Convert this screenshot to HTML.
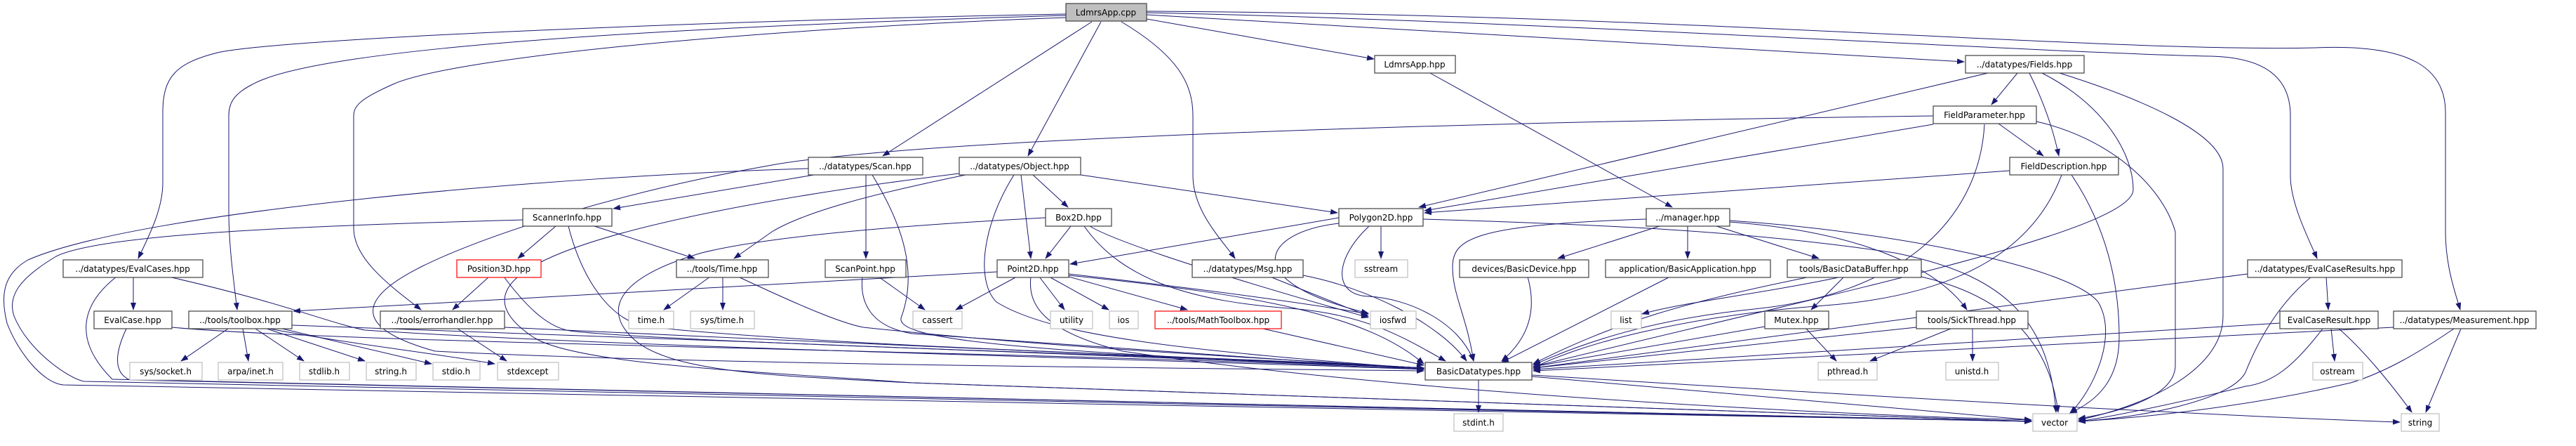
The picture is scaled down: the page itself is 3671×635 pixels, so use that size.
<!DOCTYPE html>
<html><head><meta charset="utf-8"><style>
html,body{margin:0;padding:0;background:#fff;}
svg{display:block;}
text{font-family:"DejaVu Sans","Liberation Sans",sans-serif;font-size:12px;fill:#000;}
.e{fill:none;stroke:#191970;stroke-width:1;}
.n{fill:#fff;stroke:#404040;stroke-width:1.2;}
.x{fill:#fff;stroke:#bfbfbf;stroke-width:1.2;}
.r{fill:#fff;stroke:#ff0000;stroke-width:1.2;}
.g{fill:#bfbfbf;stroke:#404040;stroke-width:1.2;}
</style></head><body>
<svg width="3671" height="635" viewBox="0 0 3671 635" xmlns="http://www.w3.org/2000/svg">
<defs><marker id="a" markerWidth="11" markerHeight="8" refX="10" refY="4" orient="auto" markerUnits="userSpaceOnUse"><path d="M0,0 L11,4 L0,8z" fill="#191970"/></marker></defs>
<g marker-end="url(#a)">
<path class="e" d="M1519,20 C1000,30 400,55 310,75 C250,90 232,110 232,160 L232,260 C232,300 210,340 197,368"/>
<path class="e" d="M1519,22 C900,40 450,70 360,120 C330,135 326,150 326,165 L326,300 C326,350 333,400 338,441"/>
<path class="e" d="M1519,25 C1100,40 650,80 560,120 C515,140 504,150 504,165 L504,325 C504,370 560,410 600,441"/>
<path class="e" d="M1556,31 L1258,222"/>
<path class="e" d="M1569,31 L1465,222"/>
<path class="e" d="M1598,31 C1680,80 1700,120 1700,165 L1700,250 C1700,300 1740,340 1760,368"/>
<path class="e" d="M1634,27 L1958,84"/>
<path class="e" d="M1634,21 L2799,88"/>
<path class="e" d="M1634,18 C2200,30 2900,75 3150,80 C3240,82 3264,120 3264,165 L3264,250 C3264,290 3290,340 3302,368"/>
<path class="e" d="M1634,16 C2400,20 3000,75 3300,68 C3440,62 3485,100 3485,160 L3485,330 C3485,380 3500,420 3506,441"/>
<path class="e" d="M2038,104 L2383,295"/>
<path class="e" d="M2875,104 L2838,149"/>
<path class="e" d="M2892,104 C2910,140 2925,180 2934,222"/>
<path class="e" d="M2833,104 L2022,295"/>
<path class="e" d="M2910,104 C3000,150 3040,220 3040,270 C3040,330 2600,420 2185,522"/>
<path class="e" d="M2935,104 C3050,140 3168,190 3168,240 L3168,450 C3168,530 3050,580 2962,598"/>
<path class="e" d="M2848,176 L2912,222"/>
<path class="e" d="M2755,177 L2030,300"/>
<path class="e" d="M2828,177 C2820,320 2700,420 2500,440 C2350,455 2250,490 2185,520"/>
<path class="e" d="M2902,173 C3000,195 3080,260 3100,330 L3100,520 C3100,570 3000,590 2962,596"/>
<path class="e" d="M2755,165 C2000,175 1300,200 1100,235 C900,270 700,330 600,380 C500,430 512,470 620,500 C1000,520 1800,525 2029,528"/>
<path class="e" d="M2864,243 L2030,303"/>
<path class="e" d="M2938,249 C2900,350 2800,420 2600,435 C2400,450 2250,490 2185,524"/>
<path class="e" d="M2952,249 C3000,320 3020,400 3020,480 C3020,540 2990,570 2950,588"/>
<path class="e" d="M1160,249 L874,297"/>
<path class="e" d="M1234,249 L1234,368"/>
<path class="e" d="M1243,249 C1280,310 1310,380 1285,450 C1270,480 1400,500 2029,524"/>
<path class="e" d="M1152,240 C800,250 200,300 40,370 C5,390 0,420 10,460 C25,500 60,545 90,548 L2895,600"/>
<path class="e" d="M745,313 C500,320 150,330 80,365 C30,395 10,420 20,450 C40,500 100,540 120,543 L2895,600"/>
<path class="e" d="M166,394 C120,430 100,480 160,540 L2895,600"/>
<path class="e" d="M180,468 C165,500 160,530 185,541 L2895,600"/>
<path class="e" d="M190,394 L190,441"/>
<path class="e" d="M240,394 C400,430 470,460 520,470 C900,495 1600,510 2029,526"/>
<path class="e" d="M245,466 C500,490 1500,500 2029,526"/>
<path class="e" d="M325,468 L258,514"/>
<path class="e" d="M346,468 L354,514"/>
<path class="e" d="M364,468 L433,514"/>
<path class="e" d="M380,468 L520,514"/>
<path class="e" d="M402,468 L615,518"/>
<path class="e" d="M384,468 C500,490 600,500 705,518"/>
<path class="e" d="M416,463 C900,480 1700,510 2029,524"/>
<path class="e" d="M1421,387 L418,443"/>
<path class="e" d="M652,468 L722,514"/>
<path class="e" d="M719,466 C1200,490 1800,510 2029,524"/>
<path class="e" d="M697,394 L645,441"/>
<path class="e" d="M718,394 C760,450 790,470 820,472 C1000,490 1800,510 2029,524"/>
<path class="e" d="M792,322 L738,368"/>
<path class="e" d="M847,322 L990,368"/>
<path class="e" d="M810,322 C830,400 870,455 920,465 C1200,495 1800,510 2029,524"/>
<path class="e" d="M1012,394 L946,441"/>
<path class="e" d="M1030,394 L1030,441"/>
<path class="e" d="M1052,394 C1150,440 1200,460 1230,466 C1500,495 1800,510 2029,524"/>
<path class="e" d="M1376,249 C1250,275 1150,300 1100,330 L1046,368"/>
<path class="e" d="M1367,247 C1100,280 900,320 800,360 C700,400 700,440 760,480 C820,520 1100,530 1300,545 L2895,600"/>
<path class="e" d="M1490,310 C1300,320 1100,335 1000,360 C880,395 860,440 900,480 C950,530 1100,535 1300,545 L2895,600"/>
<path class="e" d="M1472,249 L1522,295"/>
<path class="e" d="M1455,249 L1469,368"/>
<path class="e" d="M1540,249 L1906,303"/>
<path class="e" d="M1445,249 C1400,320 1390,400 1420,430 C1500,480 1700,500 2029,525"/>
<path class="e" d="M1526,322 L1490,368"/>
<path class="e" d="M1553,322 C1600,350 1800,410 1950,452"/>
<path class="e" d="M1545,322 C1600,400 1700,430 1850,440 C1950,450 2000,480 2060,514"/>
<path class="e" d="M1449,394 L1362,441"/>
<path class="e" d="M1481,394 L1517,441"/>
<path class="e" d="M1495,394 L1580,441"/>
<path class="e" d="M1523,394 L1692,441"/>
<path class="e" d="M1523,390 C1700,410 1850,430 1950,447"/>
<path class="e" d="M1523,392 C1800,420 1950,450 2029,518"/>
<path class="e" d="M1469,394 C1465,430 1480,470 1600,500 C2000,560 2600,590 2895,598"/>
<path class="e" d="M1800,468 L2029,520"/>
<path class="e" d="M1810,394 L1950,450"/>
<path class="e" d="M1857,392 C1950,410 2050,460 2090,514"/>
<path class="e" d="M1908,310 L1525,376"/>
<path class="e" d="M1968,322 L1968,368"/>
<path class="e" d="M1951,322 C1900,370 1900,420 1950,422 C2010,425 2080,460 2100,514"/>
<path class="e" d="M1908,318 C1800,330 1760,400 1950,446"/>
<path class="e" d="M2028,312 C2300,320 2500,330 2700,360 C2850,390 2920,450 2930,587"/>
<path class="e" d="M2346,312 C2100,320 2070,340 2070,380 C2070,420 2090,450 2100,514"/>
<path class="e" d="M2365,322 L2220,368"/>
<path class="e" d="M2405,322 L2405,368"/>
<path class="e" d="M2446,322 L2592,368"/>
<path class="e" d="M2465,316 C2650,330 2760,380 2803,441"/>
<path class="e" d="M2465,314 C2700,330 2950,380 2990,430 C3020,480 2980,560 2950,588"/>
<path class="e" d="M2177,394 C2190,440 2180,480 2140,514"/>
<path class="e" d="M2380,394 L2140,516"/>
<path class="e" d="M2625,394 C2500,420 2400,430 2340,447"/>
<path class="e" d="M2628,394 L2581,441"/>
<path class="e" d="M2580,394 C2400,430 2300,460 2185,518"/>
<path class="e" d="M2738,394 C2850,420 2920,480 2933,587"/>
<path class="e" d="M2574,468 L2617,514"/>
<path class="e" d="M2515,465 L2185,522"/>
<path class="e" d="M2780,468 L2665,514"/>
<path class="e" d="M2811,468 L2811,514"/>
<path class="e" d="M2731,466 L2185,524"/>
<path class="e" d="M3315,394 L3318,441"/>
<path class="e" d="M3203,390 L2185,524"/>
<path class="e" d="M3294,394 C3250,430 3220,480 3200,530 C3180,570 3050,595 2962,600"/>
<path class="e" d="M3322,468 L3327,514"/>
<path class="e" d="M3333,468 C3370,500 3410,550 3437,587"/>
<path class="e" d="M3249,460 L2185,526"/>
<path class="e" d="M3310,468 C3270,520 3240,545 3200,550 C3100,575 3000,595 2962,600"/>
<path class="e" d="M3507,468 L3457,587"/>
<path class="e" d="M3497,468 C3450,500 3400,530 3350,545 C3200,580 3050,595 2962,600"/>
<path class="e" d="M3411,466 L2185,528"/>
<path class="e" d="M2107,540 L2107,587"/>
<path class="e" d="M2183,534 C2600,560 3100,590 3420,601"/>
<path class="e" d="M2183,536 L2895,598"/>
<path class="e" d="M1252,394 L1318,441"/>
<path class="e" d="M1229,394 C1225,430 1240,465 1300,475 C1700,505 1900,515 2029,526"/>
</g>
<g>
<rect class="g" x="1519" y="5" width="115" height="25"/><text x="1576" y="22" text-anchor="middle">LdmrsApp.cpp</text>
<rect class="n" x="1959" y="79" width="115" height="25"/><text x="2016" y="96" text-anchor="middle">LdmrsApp.hpp</text>
<rect class="n" x="2801" y="79" width="169" height="25"/><text x="2885" y="96" text-anchor="middle">../datatypes/Fields.hpp</text>
<rect class="n" x="2755" y="151" width="147" height="25"/><text x="2828" y="168" text-anchor="middle">FieldParameter.hpp</text>
<rect class="n" x="1152" y="224" width="163" height="25"/><text x="1233" y="241" text-anchor="middle">../datatypes/Scan.hpp</text>
<rect class="n" x="1367" y="224" width="173" height="25"/><text x="1453" y="241" text-anchor="middle">../datatypes/Object.hpp</text>
<rect class="n" x="2864" y="224" width="155" height="25"/><text x="2941" y="241" text-anchor="middle">FieldDescription.hpp</text>
<rect class="n" x="745" y="297" width="127" height="25"/><text x="808" y="314" text-anchor="middle">ScannerInfo.hpp</text>
<rect class="n" x="1490" y="297" width="94" height="25"/><text x="1537" y="314" text-anchor="middle">Box2D.hpp</text>
<rect class="n" x="1908" y="297" width="120" height="25"/><text x="1968" y="314" text-anchor="middle">Polygon2D.hpp</text>
<rect class="n" x="2346" y="297" width="119" height="25"/><text x="2405" y="314" text-anchor="middle">../manager.hpp</text>
<rect class="n" x="90" y="370" width="199" height="25"/><text x="189" y="387" text-anchor="middle">../datatypes/EvalCases.hpp</text>
<rect class="r" x="651" y="370" width="120" height="25"/><text x="711" y="387" text-anchor="middle">Position3D.hpp</text>
<rect class="n" x="964" y="370" width="131" height="25"/><text x="1029" y="387" text-anchor="middle">../tools/Time.hpp</text>
<rect class="n" x="1176" y="370" width="115" height="25"/><text x="1233" y="387" text-anchor="middle">ScanPoint.hpp</text>
<rect class="n" x="1421" y="370" width="102" height="25"/><text x="1472" y="387" text-anchor="middle">Point2D.hpp</text>
<rect class="n" x="1699" y="370" width="158" height="25"/><text x="1778" y="387" text-anchor="middle">../datatypes/Msg.hpp</text>
<rect class="x" x="1931" y="370" width="75" height="25"/><text x="1968" y="387" text-anchor="middle">sstream</text>
<rect class="n" x="2080" y="370" width="184" height="25"/><text x="2172" y="387" text-anchor="middle">devices/BasicDevice.hpp</text>
<rect class="n" x="2288" y="370" width="235" height="25"/><text x="2405" y="387" text-anchor="middle">application/BasicApplication.hpp</text>
<rect class="n" x="2547" y="370" width="191" height="25"/><text x="2642" y="387" text-anchor="middle">tools/BasicDataBuffer.hpp</text>
<rect class="n" x="3203" y="370" width="220" height="25"/><text x="3313" y="387" text-anchor="middle">../datatypes/EvalCaseResults.hpp</text>
<rect class="n" x="134" y="443" width="111" height="25"/><text x="189" y="460" text-anchor="middle">EvalCase.hpp</text>
<rect class="n" x="269" y="443" width="147" height="25"/><text x="342" y="460" text-anchor="middle">../tools/toolbox.hpp</text>
<rect class="n" x="542" y="443" width="177" height="25"/><text x="630" y="460" text-anchor="middle">../tools/errorhandler.hpp</text>
<rect class="x" x="896" y="443" width="64" height="25"/><text x="928" y="460" text-anchor="middle">time.h</text>
<rect class="x" x="984" y="443" width="91" height="25"/><text x="1029" y="460" text-anchor="middle">sys/time.h</text>
<rect class="x" x="1301" y="443" width="70" height="25"/><text x="1336" y="460" text-anchor="middle">cassert</text>
<rect class="x" x="1497" y="443" width="60" height="25"/><text x="1527" y="460" text-anchor="middle">utility</text>
<rect class="x" x="1581" y="443" width="41" height="25"/><text x="1601" y="460" text-anchor="middle">ios</text>
<rect class="r" x="1646" y="443" width="180" height="25"/><text x="1736" y="460" text-anchor="middle">../tools/MathToolbox.hpp</text>
<rect class="x" x="1953" y="443" width="65" height="25"/><text x="1985" y="460" text-anchor="middle">iosfwd</text>
<rect class="x" x="2296" y="443" width="43" height="25"/><text x="2317" y="460" text-anchor="middle">list</text>
<rect class="n" x="2515" y="443" width="91" height="25"/><text x="2560" y="460" text-anchor="middle">Mutex.hpp</text>
<rect class="n" x="2731" y="443" width="159" height="25"/><text x="2810" y="460" text-anchor="middle">tools/SickThread.hpp</text>
<rect class="n" x="3249" y="443" width="140" height="25"/><text x="3319" y="460" text-anchor="middle">EvalCaseResult.hpp</text>
<rect class="n" x="3411" y="443" width="203" height="25"/><text x="3512" y="460" text-anchor="middle">../datatypes/Measurement.hpp</text>
<rect class="x" x="185" y="516" width="103" height="25"/><text x="236" y="533" text-anchor="middle">sys/socket.h</text>
<rect class="x" x="311" y="516" width="92" height="25"/><text x="357" y="533" text-anchor="middle">arpa/inet.h</text>
<rect class="x" x="427" y="516" width="71" height="25"/><text x="462" y="533" text-anchor="middle">stdlib.h</text>
<rect class="x" x="522" y="516" width="71" height="25"/><text x="557" y="533" text-anchor="middle">string.h</text>
<rect class="x" x="617" y="516" width="67" height="25"/><text x="650" y="533" text-anchor="middle">stdio.h</text>
<rect class="x" x="709" y="516" width="87" height="25"/><text x="752" y="533" text-anchor="middle">stdexcept</text>
<rect class="n" x="2031" y="516" width="152" height="25"/><text x="2107" y="533" text-anchor="middle">BasicDatatypes.hpp</text>
<rect class="x" x="2591" y="516" width="84" height="25"/><text x="2633" y="533" text-anchor="middle">pthread.h</text>
<rect class="x" x="2773" y="516" width="75" height="25"/><text x="2810" y="533" text-anchor="middle">unistd.h</text>
<rect class="x" x="3296" y="516" width="71" height="25"/><text x="3331" y="533" text-anchor="middle">ostream</text>
<rect class="x" x="2072" y="589" width="70" height="25"/><text x="2107" y="606" text-anchor="middle">stdint.h</text>
<rect class="x" x="2897" y="589" width="63" height="25"/><text x="2928" y="606" text-anchor="middle">vector</text>
<rect class="x" x="3422" y="589" width="54" height="25"/><text x="3449" y="606" text-anchor="middle">string</text>
</g>
</svg>
</body></html>
